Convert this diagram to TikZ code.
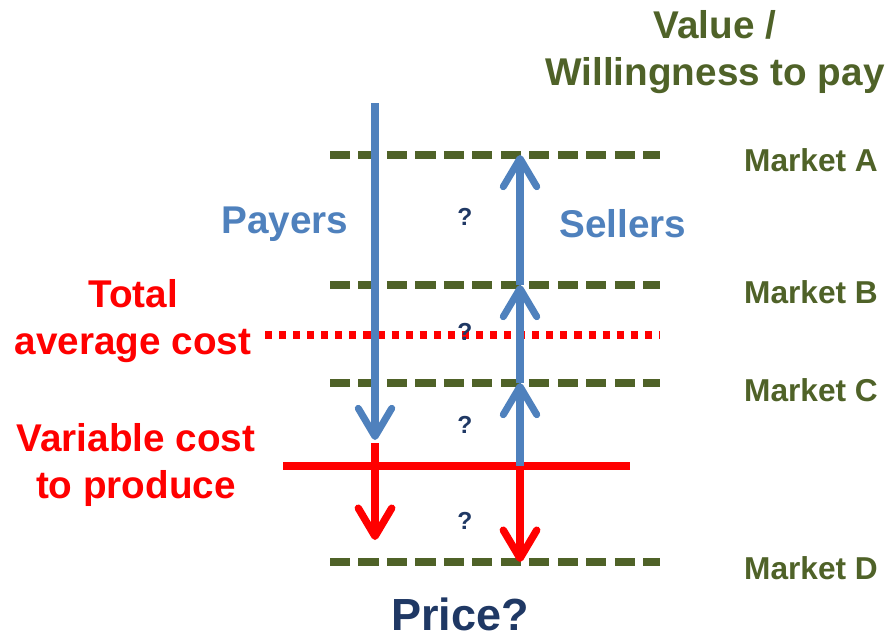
\documentclass[tikz,border=0pt]{standalone}
\usepackage{fontspec}
\setmainfont{Liberation Sans}
\usetikzlibrary{arrows.meta}
\definecolor{mktgreen}{HTML}{4F6228}
\definecolor{flowblue}{HTML}{4F81BD}
\definecolor{qnavy}{HTML}{1F3864}
\begin{document}
\begin{tikzpicture}[x=0.01cm,y=-0.01cm,font=\bfseries,line join=round,
    >={Straight Barb[length=8pt,width=9.5pt,round]},
    level/.style={mktgreen,line width=2pt,dash pattern=on 5.7pt off 2.4pt},
    tac/.style={red,line width=2.2pt,dash pattern=on 2pt off 2pt},
    flow/.style={flowblue,line width=2pt,->},
    drop/.style={red,line width=2.1pt,->},
    mkt/.style={mktgreen,font=\fontsize{9}{11}\selectfont\bfseries},
    cost/.style={red,align=center,font=\fontsize{11}{13.2}\selectfont\bfseries},
    side/.style={flowblue,font=\fontsize{11}{13}\selectfont\bfseries},
    qm/.style={qnavy,font=\fontsize{7}{8}\selectfont\bfseries}]
    \useasboundingbox (0,0) rectangle (888,636);
    % price levels
    \coordinate (Al) at (330,155); \coordinate (Ar) at (660,155);
    \coordinate (Bl) at (330,285); \coordinate (Br) at (660,285);
    \coordinate (Cl) at (330,383); \coordinate (Cr) at (660,383);
    \coordinate (Dl) at (330,562); \coordinate (Dr) at (660,562);
    \coordinate (Tl) at (265,335); \coordinate (Tr) at (660,335);
    \coordinate (Vl) at (283,466); \coordinate (Vr) at (630,466);
    \draw[level] (Al) -- (Ar);
    \draw[level] (Bl) -- (Br);
    \draw[level] (Cl) -- (Cr);
    \draw[level] (Dl) -- (Dr);
    \draw[tac] (Tl) -- (Tr);
    \draw[red,line width=2.1pt] (Vl) -- (Vr);
    % payers going down
    \coordinate (pTop) at (375,103);
    \coordinate (pV) at (375,440);
    \coordinate (pRed) at (375,443);
    \coordinate (pEnd) at (375,540);
    \draw[flow] (pTop) -- (pV);
    \draw[drop] (pRed) -- (pEnd);
    % sellers going up
    \coordinate (sA) at (520,155);
    \coordinate (sB) at (520,285);
    \coordinate (sC) at (520,383);
    \coordinate (sV) at (520,466);
    \coordinate (sD) at (520,562);
    \draw[flow] (sV) -- (sC);
    \draw[flow] (sC) -- (sB);
    \draw[flow] (sB) -- (sA);
    \draw[drop] (sV) -- (sD);
    % labels
    \node[mktgreen,align=center,font=\fontsize{11}{13.4}\selectfont\bfseries] (wtp) at (715,52) {Value /\\Willingness to pay};
    \node[mkt] (mA) at (811,160) {Market A};
    \node[mkt] (mB) at (811,292) {Market B};
    \node[mkt] (mC) at (811,390) {Market C};
    \node[mkt] (mD) at (811,568) {Market D};
    \node[side] (payers) at (285,224) {Payers};
    \node[side] (sellers) at (623,224) {Sellers};
    \node[cost] (total) at (133,321) {Total\\average cost};
    \node[cost] (var) at (136,465) {Variable cost\\to produce};
    \node[qm] (q1) at (465,217) {?};
    \node[qm] (q2) at (465,332) {?};
    \node[qm] (q3) at (465,425) {?};
    \node[qm] (q4) at (465,521) {?};
    \node[qnavy,font=\fontsize{12.8}{15}\selectfont\bfseries] (price) at (460,614) {Price?};
\end{tikzpicture}
\end{document}
